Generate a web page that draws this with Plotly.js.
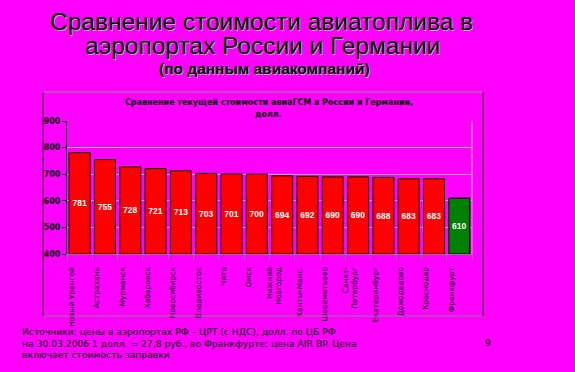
<!DOCTYPE html>
<html>
<head>
<meta charset="utf-8">
<script src="https://cdn.plot.ly/plotly-3.0.1.min.js"></script>
<style>html,body{margin:0;padding:0;background:#FF00FF;}#chart{width:575px;height:372px;}</style>
</head>
<body>
<div id="chart"></div>
<script>
const categories = ['Новый Уренгой','Астрахань','Мурманск','Хабаровск','Новосибирск','Владивосток','Чита','Омск','Нижний<br>Новгород','Ханты-Манс.','Шереметьево','Санкт-<br>Петербург','Екатеринбург','Домодедово','Краснодар','Франкфурт'];
const prices = [781, 755, 728, 721, 713, 703, 701, 700, 694, 692, 690, 690, 688, 683, 683, 610];
const yTickVals = [400, 500, 600, 700, 800, 900];
const axisBase = 400;

const RED = '#FF0000', GREEN = '#008000';
const colors = categories.map(c => c === 'Франкфурт' ? GREEN : RED);

// pixel -> paper helpers (plot area 67..472 x, 121..254 y)
const L = 67, R = 472, T = 121, B = 254;
const px = x => (x - L) / (R - L);
const py = y => (B - y) / (B - T);

const trace = {
  type: 'bar',
  x: categories,
  y: prices.map(v => v - axisBase),
  base: axisBase,
  text: prices.map(String),
  textposition: 'inside',
  insidetextanchor: 'middle',
  textangle: 0,
  textfont: {family: 'Liberation Sans, Arial, sans-serif', size: 8.5, color: '#FFFFFF', weight: 'bold'},
  marker: {color: colors, line: {color: '#000000', width: 1}},
  width: 0.83,
  hoverinfo: 'skip'
};

const titleFont = {family: 'Liberation Sans, Arial, sans-serif', size: 24.5, color: '#000000', shadow: '1px 1px 0px #B0B0B0'};
const smallFont = {family: 'DejaVu Sans, sans-serif', size: 9.2, color: '#000000'};

const layout = {
  width: 575, height: 372,
  paper_bgcolor: '#FF00FF', plot_bgcolor: 'rgba(0,0,0,0)',
  margin: {l: L, r: 575 - R, t: T, b: 372 - B},
  showlegend: false,
  bargap: 0.17,
  xaxis: {
    type: 'category',
    showline: true, linecolor: '#808080', linewidth: 1,
    ticks: 'outside', ticklen: 4, tickcolor: '#808080', tickson: 'boundaries',
    tickangle: -90, ticklabelstandoff: 9, ticklabelshift: -8,
    tickfont: {family: 'DejaVu Sans, sans-serif', size: 7.5, color: '#000000'},
    showgrid: false, fixedrange: true
  },
  yaxis: {
    range: [400, 900], tickvals: yTickVals,
    showline: true, linecolor: '#000000', linewidth: 1,
    ticks: 'outside', ticklen: 4, tickcolor: '#000000',
    tickfont: {family: 'DejaVu Sans, sans-serif', size: 8, color: '#000000', weight: 'bold'},
    showgrid: true, gridcolor: '#B8B8B8', gridwidth: 1,
    zeroline: false, fixedrange: true
  },
  shapes: [
    {type: 'line', xref: 'paper', yref: 'paper', x0: 1, x1: 1, y0: 0, y1: 1, line: {color: '#B8B8B8', width: 1}},
    {type: 'line', xref: 'paper', yref: 'paper', x0: px(43), x1: px(483), y0: py(92), y1: py(92), line: {color: '#909090', width: 1}},
    {type: 'line', xref: 'paper', yref: 'paper', x0: px(43), x1: px(483), y0: py(316), y1: py(316), line: {color: '#808080', width: 1}},
    {type: 'line', xref: 'paper', yref: 'paper', x0: px(43), x1: px(43), y0: py(92), y1: py(316), line: {color: '#202020', width: 1}},
    {type: 'line', xref: 'paper', yref: 'paper', x0: px(483), x1: px(483), y0: py(92), y1: py(316), line: {color: '#202020', width: 1}}
  ],
  annotations: [
    {text: 'Сравнение стоимости авиатоплива в', xref: 'paper', yref: 'paper', x: px(261), y: py(21), xanchor: 'center', yanchor: 'middle', showarrow: false, font: titleFont},
    {text: 'аэропортах России и Германии', xref: 'paper', yref: 'paper', x: px(262), y: py(45), xanchor: 'center', yanchor: 'middle', showarrow: false, font: titleFont},
    {text: '(по данным авиакомпаний)', xref: 'paper', yref: 'paper', x: px(264), y: py(68), xanchor: 'center', yanchor: 'middle', showarrow: false,
     font: {family: 'Liberation Sans, Arial, sans-serif', size: 15.5, color: '#000000', weight: 'bold', shadow: '1px 1px 0px #B0B0B0'}},
    {text: 'Сравнение текущей стоимости авиаГСМ в России и Германии,', xref: 'paper', yref: 'paper', x: px(269), y: py(103), xanchor: 'center', yanchor: 'middle', showarrow: false,
     font: {family: 'DejaVu Sans, sans-serif', size: 8, color: '#000000', weight: 'bold'}},
    {text: 'долл.', xref: 'paper', yref: 'paper', x: px(268), y: py(114), xanchor: 'center', yanchor: 'middle', showarrow: false,
     font: {family: 'DejaVu Sans, sans-serif', size: 8, color: '#000000', weight: 'bold'}},
    {text: 'Источники: цены в аэропортах РФ – ЦРТ (с НДС), долл. по ЦБ РФ', xref: 'paper', yref: 'paper', x: px(20), y: py(331), xanchor: 'left', yanchor: 'middle', showarrow: false, font: smallFont},
    {text: 'на 30.03.2006 1 долл. = 27,8 руб., во Франкфурте: цена AIR BP. Цена', xref: 'paper', yref: 'paper', x: px(20), y: py(343), xanchor: 'left', yanchor: 'middle', showarrow: false, font: smallFont},
    {text: 'включает стоимость заправки', xref: 'paper', yref: 'paper', x: px(20), y: py(354), xanchor: 'left', yanchor: 'middle', showarrow: false, font: smallFont},
    {text: '9', xref: 'paper', yref: 'paper', x: px(488), y: py(342), xanchor: 'center', yanchor: 'middle', showarrow: false, font: smallFont}
  ]
};

Plotly.newPlot('chart', [trace], layout, {staticPlot: true, displayModeBar: false});
</script>
</body>
</html>
